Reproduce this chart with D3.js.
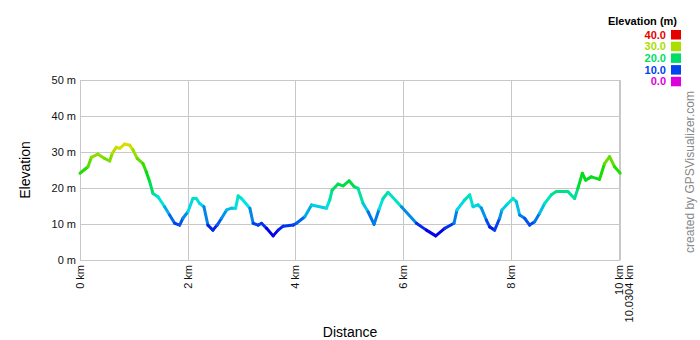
<!DOCTYPE html>
<html>
<head>
<meta charset="utf-8">
<script src="https://cdn.jsdelivr.net/npm/d3@7"></script>
<style>
  body { margin: 0; background: #fff; }
  svg text { font-family: "Liberation Sans", Arial, sans-serif; }
</style>
</head>
<body>
<div id="chart"></div>
<script>
// distance along track (km) and elevation (m)
const distance = [0, 0.148, 0.21, 0.334, 0.458, 0.551, 0.599, 0.673, 0.737, 0.829,
    0.922, 0.983, 1.063, 1.169, 1.23, 1.293, 1.354, 1.447, 1.571, 1.664,
    1.757, 1.85, 1.911, 2.004, 2.096, 2.158, 2.221, 2.301, 2.375, 2.468,
    2.547, 2.629, 2.722, 2.814, 2.889, 2.937, 3.0, 3.154, 3.215, 3.308,
    3.371, 3.464, 3.586, 3.679, 3.772, 3.957, 4.02, 4.174, 4.299, 4.577,
    4.638, 4.681, 4.792, 4.885, 4.996, 5.089, 5.163, 5.256, 5.349, 5.46,
    5.553, 5.627, 5.72, 5.968, 6.247, 6.432, 6.605, 6.772, 6.944, 7.0,
    7.143, 7.236, 7.297, 7.39, 7.453, 7.545, 7.607, 7.699, 7.792, 7.835,
    7.946, 8.039, 8.102, 8.163, 8.256, 8.349, 8.442, 8.534, 8.627, 8.751,
    8.844, 8.967, 9.059, 9.184, 9.245, 9.327, 9.388, 9.494, 9.647, 9.74,
    9.833, 9.926, 10.0304];
const elevation = [24.1, 25.9, 28.5, 29.4, 28.2, 27.5, 29.6, 31.3, 31.0, 32.2,
    31.9, 30.6, 28.2, 26.8, 24.5, 21.8, 18.5, 17.6, 14.8, 12.5,
    10.2, 9.7, 11.6, 13.4, 17.1, 17.1, 15.7, 14.8, 9.7, 8.3,
    9.7, 11.6, 13.9, 14.4, 14.4, 17.8, 17.1, 14.4, 10.2, 9.7,
    10.2, 8.8, 6.7, 8.3, 9.4, 9.7, 10.2, 12.0, 15.3, 14.4,
    16.7, 19.4, 21.1, 20.6, 22.0, 20.4, 19.9, 15.7, 13.4, 9.9,
    14.1, 17.1, 18.8, 14.8, 10.2, 8.3, 6.7, 8.8, 10.2, 13.9,
    16.7, 18.1, 14.8, 15.3, 14.4, 11.1, 9.2, 8.3, 11.6, 13.9,
    15.7, 17.1, 16.2, 12.5, 11.6, 9.7, 10.6, 13.0, 15.7, 18.1,
    19.0, 19.0, 19.0, 17.1, 19.9, 24.1, 22.2, 23.1, 22.4, 26.8,
    28.7, 25.9, 24.1];

const xTicks = [0, 2, 4, 6, 8, 10];
const yTicks = [0, 10, 20, 30, 40, 50];
const totalDistance = 10.0304;

// elevation colour key
const legendValues = [40, 30, 20, 10, 0];
const legendColors = ["#e60000", "#aadd00", "#00dd66", "#0044ee", "#dd00dd"];

const width = 700;
const height = 340;
const margin = { top: 80, right: 80, bottom: 80, left: 80 };

const svg = d3.select("#chart")
    .append("svg")
    .attr("width", width)
    .attr("height", height);

const x = d3.scaleLinear()
    .domain([0, totalDistance])
    .range([margin.left, 620.2]);

const y = d3.scaleLinear()
    .domain([0, 50])
    .range([height - margin.bottom, margin.top]);

const color = d3.scaleLinear()
    .domain(legendValues.slice().reverse())
    .range(legendColors.slice().reverse())
    .interpolate(d3.interpolateHsl)
    .clamp(true);

// grid
svg.append("g")
    .selectAll("line")
    .data(yTicks)
    .join("line")
    .attr("x1", x(0))
    .attr("x2", x(totalDistance))
    .attr("y1", d => y(d) + 0.5)
    .attr("y2", d => y(d) + 0.5)
    .attr("stroke", "#c8c8c8");

svg.append("g")
    .selectAll("line")
    .data(xTicks.concat([totalDistance]))
    .join("line")
    .attr("x1", d => Math.round(x(d)) + 0.5)
    .attr("x2", d => Math.round(x(d)) + 0.5)
    .attr("y1", y(50))
    .attr("y2", y(0))
    .attr("stroke", "#c8c8c8");

// y tick labels
svg.append("g")
    .selectAll("text")
    .data(yTicks)
    .join("text")
    .attr("x", margin.left - 4)
    .attr("y", d => y(d) + 4)
    .attr("text-anchor", "end")
    .attr("font-size", 11)
    .attr("fill", "#111")
    .text(d => `${d} m`);

// x tick labels, rotated
const xLabels = xTicks.map(d => ({ v: d, label: `${d} km`, dx: 0 }))
    .concat([{ v: totalDistance, label: `${totalDistance} km`, dx: 9 }]);

svg.append("g")
    .selectAll("text")
    .data(xLabels)
    .join("text")
    .attr("transform", d => `translate(${x(d.v) + 4 + d.dx},${y(0) + 5}) rotate(-90)`)
    .attr("text-anchor", "end")
    .attr("font-size", 11)
    .attr("fill", "#111")
    .text(d => d.label);

// axis titles
svg.append("text")
    .attr("transform", `translate(30,${(y(0) + y(50)) / 2}) rotate(-90)`)
    .attr("text-anchor", "middle")
    .attr("font-size", 14)
    .attr("fill", "#000")
    .text("Elevation");

svg.append("text")
    .attr("x", (x(0) + x(totalDistance)) / 2)
    .attr("y", 337)
    .attr("text-anchor", "middle")
    .attr("font-size", 14)
    .attr("fill", "#000")
    .text("Distance");

// profile, one segment per pair of points coloured by elevation
const points = distance.map((d, i) => ({ d, e: elevation[i] }));
const segments = d3.pairs(points);

svg.append("g")
    .selectAll("line")
    .data(segments)
    .join("line")
    .attr("x1", s => x(s[0].d))
    .attr("y1", s => y(s[0].e))
    .attr("x2", s => x(s[1].d))
    .attr("y2", s => y(s[1].e))
    .attr("stroke", s => color((s[0].e + s[1].e) / 2))
    .attr("stroke-width", 3)
    .attr("stroke-linecap", "round");

// legend
const legend = svg.append("g");

legend.append("text")
    .attr("x", 677)
    .attr("y", 25)
    .attr("text-anchor", "end")
    .attr("font-size", 11)
    .attr("font-weight", "bold")
    .attr("fill", "#000")
    .text("Elevation (m)");

const items = legend.selectAll("g.item")
    .data(legendValues)
    .join("g")
    .attr("class", "item")
    .attr("transform", (d, i) => `translate(0,${30 + i * 11.7})`);

items.append("rect")
    .attr("x", 671)
    .attr("y", 0)
    .attr("width", 10)
    .attr("height", 9.5)
    .attr("fill", (d, i) => legendColors[i]);

items.append("text")
    .attr("x", 666)
    .attr("y", 8.5)
    .attr("text-anchor", "end")
    .attr("font-size", 11)
    .attr("font-weight", "bold")
    .attr("fill", (d, i) => legendColors[i])
    .text(d => d.toFixed(1));

// credit
svg.append("text")
    .attr("transform", `translate(694,172) rotate(-90)`)
    .attr("text-anchor", "middle")
    .attr("font-size", 12)
    .attr("fill", "#888")
    .text("created by GPSVisualizer.com");
</script>
</body>
</html>
